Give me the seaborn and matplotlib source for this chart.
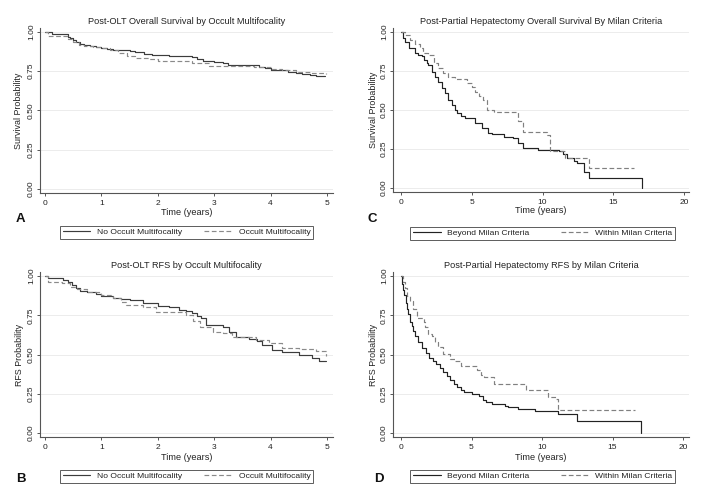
import numpy as np
import pandas as pd
import matplotlib
matplotlib.use("Agg")
import matplotlib.pyplot as plt
import seaborn as sns

# ---------------- data ----------------
A_none_t = [0, 0.12, 0.35, 0.40, 0.45, 0.50, 0.55, 0.62, 0.70, 0.80, 0.90, 1.00, 1.10, 1.20, 1.35, 1.50, 1.60, 1.75, 1.90, 2.00,
            2.20, 2.40, 2.60, 2.70, 2.80, 3.00, 3.15, 3.25, 3.50, 3.80, 3.90, 4.00, 4.15, 4.30, 4.45, 4.55, 4.70, 4.80, 4.97]
A_none_s = [1.0, 0.99, 0.985, 0.97, 0.96, 0.95, 0.935, 0.925, 0.915, 0.912, 0.905, 0.898, 0.89, 0.885, 0.883, 0.878, 0.870, 0.862, 0.856, 0.852,
            0.850, 0.845, 0.840, 0.830, 0.815, 0.812, 0.800, 0.792, 0.790, 0.778, 0.770, 0.760, 0.755, 0.748, 0.742, 0.735, 0.728, 0.722, 0.718]
A_occ_t = [0, 0.05, 0.30, 0.40, 0.50, 0.60, 0.70, 0.85, 1.00, 1.15, 1.30, 1.45, 1.60, 1.85, 2.00, 2.60, 2.90, 3.50, 3.70, 4.00,
           4.20, 4.45, 4.70, 4.98]
A_occ_s = [1.0, 0.975, 0.972, 0.955, 0.935, 0.920, 0.910, 0.905, 0.898, 0.885, 0.865, 0.845, 0.835, 0.830, 0.815, 0.800, 0.785, 0.782, 0.780, 0.765,
           0.755, 0.745, 0.738, 0.735]

B_none_t = [0, 0.05, 0.32, 0.40, 0.47, 0.55, 0.62, 0.75, 0.90, 1.00, 1.20, 1.35, 1.50, 1.74, 2.00, 2.20, 2.38, 2.50, 2.60, 2.70,
            2.76, 2.85, 3.15, 3.26, 3.38, 3.62, 3.75, 3.85, 4.03, 4.20, 4.50, 4.74, 4.85, 4.99]
B_none_s = [1.0, 0.99, 0.975, 0.96, 0.943, 0.925, 0.907, 0.895, 0.885, 0.873, 0.862, 0.855, 0.848, 0.830, 0.810, 0.805, 0.784, 0.775, 0.763, 0.745,
            0.730, 0.689, 0.678, 0.646, 0.610, 0.600, 0.585, 0.560, 0.530, 0.517, 0.500, 0.477, 0.456, 0.456]
B_occ_t = [0, 0.05, 0.30, 0.45, 0.56, 0.74, 1.00, 1.20, 1.35, 1.44, 1.74, 1.97, 2.50, 2.62, 2.74, 2.97, 3.15, 3.32, 3.74, 3.97,
           4.20, 4.50, 4.80, 4.99]
B_occ_s = [1.0, 0.964, 0.953, 0.930, 0.915, 0.900, 0.879, 0.858, 0.835, 0.816, 0.805, 0.773, 0.752, 0.715, 0.678, 0.646, 0.636, 0.610, 0.593, 0.572,
           0.540, 0.536, 0.520, 0.490]

C_beyond_t = [0, 0.15, 0.28, 0.60, 0.99, 1.23, 1.46, 1.60, 1.82, 1.94, 2.17, 2.40, 2.64, 2.90, 3.10, 3.34, 3.60, 3.80, 3.95, 4.27,
              4.55, 5.20, 5.70, 6.15, 6.40, 7.30, 7.90, 8.25, 8.60, 9.00, 9.70, 11.20, 11.45, 11.70, 12.20, 12.43, 12.90, 13.30, 17.0]
C_beyond_s = [1.0, 0.96, 0.935, 0.90, 0.866, 0.850, 0.843, 0.823, 0.80, 0.788, 0.745, 0.71, 0.681, 0.64, 0.610, 0.564, 0.53, 0.50, 0.48, 0.463,
              0.449, 0.415, 0.385, 0.355, 0.345, 0.329, 0.32, 0.286, 0.258, 0.255, 0.246, 0.240, 0.22, 0.19, 0.170, 0.158, 0.104, 0.062, 0.0]
C_within_t = [0, 0.28, 0.64, 1.00, 1.34, 1.55, 1.94, 2.30, 2.64, 3.00, 3.34, 3.80, 4.64, 5.00, 5.20, 5.50, 5.80, 6.05, 6.60, 8.30,
              8.60, 10.30, 10.50, 11.60, 13.30, 16.5]
C_within_s = [1.0, 0.98, 0.95, 0.92, 0.895, 0.865, 0.853, 0.80, 0.767, 0.74, 0.713, 0.70, 0.671, 0.65, 0.617, 0.59, 0.564, 0.50, 0.485, 0.43,
              0.361, 0.34, 0.24, 0.19, 0.126, 0.126]

D_beyond_t = [0, 0.08, 0.16, 0.24, 0.32, 0.40, 0.50, 0.64, 0.75, 0.87, 1.00, 1.20, 1.50, 1.75, 2.00, 2.25, 2.50, 2.75, 3.00, 3.25,
              3.50, 3.75, 4.00, 4.25, 4.50, 5.00, 5.50, 5.84, 6.00, 6.43, 7.40, 7.60, 8.30, 9.50, 11.10, 12.45, 17.0]
D_beyond_s = [1.0, 0.95, 0.91, 0.88, 0.83, 0.79, 0.76, 0.71, 0.68, 0.65, 0.62, 0.58, 0.54, 0.51, 0.48, 0.46, 0.44, 0.415, 0.39, 0.36,
              0.34, 0.315, 0.29, 0.275, 0.262, 0.248, 0.235, 0.212, 0.20, 0.185, 0.175, 0.166, 0.155, 0.14, 0.118, 0.078, 0.0]
D_within_t = [0, 0.15, 0.28, 0.45, 0.64, 0.85, 1.13, 1.60, 1.70, 1.94, 2.17, 2.40, 2.65, 3.00, 3.50, 3.80, 4.27, 5.40, 5.70, 5.90,
              6.60, 8.90, 10.40, 11.00, 11.10, 16.6]
D_within_s = [1.0, 0.96, 0.924, 0.87, 0.839, 0.79, 0.732, 0.71, 0.677, 0.63, 0.616, 0.58, 0.55, 0.506, 0.474, 0.457, 0.424, 0.40, 0.37, 0.355,
              0.315, 0.276, 0.232, 0.219, 0.147, 0.147]

olt_groups = ["No Occult Multifocality", "Occult Multifocality"]
milan_groups = ["Beyond Milan Criteria", "Within Milan Criteria"]
y_ticks = [0.0, 0.25, 0.5, 0.75, 1.0]
y_ticklabels = ["0.00", "0.25", "0.50", "0.75", "1.00"]
olt_xticks = [0, 1, 2, 3, 4, 5]
milan_xticks = [0, 5, 10, 15, 20]

panels = [
    dict(letter="A", title="Post-OLT Overall Survival by Occult Multifocality", ylabel="Survival Probability",
         groups=olt_groups, data=[(A_none_t, A_none_s), (A_occ_t, A_occ_s)], xticks=olt_xticks,
         ax_px=(40, 28, 333, 193), x0px=45, x1px=327, xmax=5, y1px=32, y0px=189,
         title_y=24, xlabel_y=215, ylabel_x=19, leg=(60, 224, 313, 239), letter_xy=(16, 222),
         colors=("#3c3c3c", "#8a8a8a")),
    dict(letter="B", title="Post-OLT RFS by Occult Multifocality", ylabel="RFS Probability",
         groups=olt_groups, data=[(B_none_t, B_none_s), (B_occ_t, B_occ_s)], xticks=olt_xticks,
         ax_px=(40, 272, 333, 437), x0px=45, x1px=327, xmax=5, y1px=276, y0px=433,
         title_y=268, xlabel_y=460, ylabel_x=19, leg=(60, 468, 313, 483), letter_xy=(16, 482),
         colors=("#3c3c3c", "#8a8a8a")),
    dict(letter="C", title="Post-Partial Hepatectomy Overall Survival By Milan Criteria", ylabel="Survival Probability",
         groups=milan_groups, data=[(C_beyond_t, C_beyond_s), (C_within_t, C_within_s)], xticks=milan_xticks,
         ax_px=(393, 28, 689, 192), x0px=401, x1px=684, xmax=20, y1px=32, y0px=188,
         title_y=24, xlabel_y=213, ylabel_x=373, leg=(410, 225, 675, 240), letter_xy=(368, 222),
         colors=("#222222", "#808080")),
    dict(letter="D", title="Post-Partial Hepatectomy RFS by Milan Criteria", ylabel="RFS Probability",
         groups=milan_groups, data=[(D_beyond_t, D_beyond_s), (D_within_t, D_within_s)], xticks=milan_xticks,
         ax_px=(393, 272, 689, 437), x0px=401, x1px=683, xmax=20, y1px=276, y0px=433,
         title_y=268, xlabel_y=460, ylabel_x=374, leg=(410, 468, 675, 483), letter_xy=(374, 482),
         colors=("#222222", "#808080")),
]

sns.set_theme(style="white")
plt.rcParams["font.family"] = ["Liberation Sans", "DejaVu Sans"]
W, H = 704, 501
fig = plt.figure(figsize=(W / 100, H / 100), dpi=100)
fig.patch.set_facecolor("white")

def fx(x):
    return x / W

def fy(y):
    return 1 - y / H

TXT = "#222222"
AX = "#555555"

for p in panels:
    l, t, r, b = p["ax_px"]
    ax = fig.add_axes([fx(l), fy(b), (r - l) / W, (b - t) / H])
    frames = []
    for g, (tt, ss) in zip(p["groups"], p["data"]):
        frames.append(pd.DataFrame({"time": tt, "surv": ss, "group": g}))
    df = pd.concat(frames, ignore_index=True)
    sns.lineplot(data=df, x="time", y="surv", hue="group", style="group",
                 hue_order=p["groups"], style_order=p["groups"],
                 palette=dict(zip(p["groups"], p["colors"])),
                 dashes={p["groups"][0]: "", p["groups"][1]: (4, 2.2)},
                 drawstyle="steps-post", estimator=None, linewidth=0.85, ax=ax)
    # scales: map pixel positions to data limits
    pxyr = (p["x1px"] - p["x0px"]) / p["xmax"]
    ax.set_xlim(-(p["x0px"] - l) / pxyr, p["xmax"] + (r - p["x1px"]) / pxyr)
    pyun = p["y0px"] - p["y1px"]
    ax.set_ylim(-(b - p["y0px"]) / pyun, 1 + (p["y1px"] - t) / pyun)
    ax.set_xticks(p["xticks"])
    ax.set_xticklabels([str(v) for v in p["xticks"]])
    ax.set_yticks(y_ticks)
    ax.set_yticklabels(y_ticklabels)
    ax.set_xlabel("")
    ax.set_ylabel("")
    for s in ["top", "right"]:
        ax.spines[s].set_visible(False)
    for s in ["left", "bottom"]:
        ax.spines[s].set_color(AX)
        ax.spines[s].set_linewidth(0.8)
    ax.grid(axis="y", color="#ececec", linewidth=0.7)
    ax.grid(axis="x", visible=False)
    ax.set_axisbelow(True)
    ax.tick_params(axis="both", which="major", length=2.5, width=0.7, color=AX,
                   labelsize=6.0, labelcolor=TXT, bottom=True, left=True)
    ax.tick_params(axis="x", pad=2.5)
    ax.tick_params(axis="y", labelrotation=90, pad=1.2)
    for lbl in ax.get_yticklabels():
        lbl.set_va("center")
    ax.set_facecolor("white")

    # legend rebuilt below the panel
    old = ax.get_legend()
    handles = list(old.legend_handles)
    labels = [tx.get_text() for tx in old.get_texts()]
    old.remove()
    L0, T0, R0, B0 = p["leg"]
    leg = ax.legend(handles, labels, loc="lower left",
                    bbox_to_anchor=(fx(L0), fy(B0), (R0 - L0) / W, (B0 - T0) / H),
                    bbox_transform=fig.transFigure, mode="expand", ncol=2,
                    frameon=True, fancybox=False, borderaxespad=0, borderpad=0.3,
                    handlelength=3.3, handletextpad=0.8, fontsize=6.1, labelcolor=TXT)
    leg.get_frame().set_edgecolor("#333333")
    leg.get_frame().set_linewidth(0.7)
    for h in leg.legend_handles:
        h.set_linewidth(0.85)

    cx = (l + r) / 2
    fig.text(fx(cx), fy(p["title_y"]), p["title"], ha="center", va="baseline", fontsize=6.6, color=TXT)
    fig.text(fx(cx), fy(p["xlabel_y"]), "Time (years)", ha="center", va="baseline", fontsize=6.6, color=TXT)
    fig.text(fx(p["ylabel_x"]), fy((t + b) / 2), p["ylabel"], ha="center", va="center", rotation=90,
             fontsize=6.4, color=TXT)
    fig.text(fx(p["letter_xy"][0]), fy(p["letter_xy"][1]), p["letter"], ha="left", va="baseline",
             fontsize=9.5, fontweight="bold", color="#111111")

fig.savefig("out.png", dpi=100, facecolor="white")
